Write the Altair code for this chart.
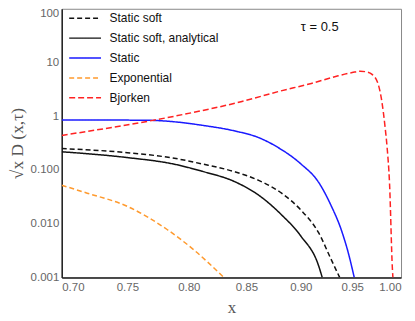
import altair as alt
import pandas as pd

series_names = ["Static soft", "Static soft, analytical", "Static", "Exponential", "Bjorken"]
series_colors = ["#111111", "#111111", "#1a1aff", "#ff9a2e", "#ff2222"]
series_dashes = [[5, 3], [1, 0], [1, 0], [5, 3], [6, 3]]

static_soft_x = [0.70, 0.75, 0.788, 0.811, 0.840, 0.861, 0.882, 0.900, 0.917, 0.929, 0.9375]
static_soft_y = [0.25, 0.21, 0.165, 0.13, 0.092, 0.064, 0.037, 0.018, 0.0068, 0.0022, 0.001]

analytical_x = [0.70, 0.75, 0.788, 0.811, 0.840, 0.861, 0.882, 0.900, 0.917, 0.9205]
analytical_y = [0.218, 0.17, 0.128, 0.095, 0.060, 0.034, 0.0146, 0.0059, 0.00165, 0.001]

static_x = [0.70, 0.73, 0.767, 0.79, 0.811, 0.84, 0.861, 0.879, 0.90, 0.917, 0.929, 0.939, 0.946, 0.952]
static_y = [0.85, 0.85, 0.84, 0.78, 0.68, 0.53, 0.40, 0.26, 0.13, 0.059, 0.022, 0.0078, 0.0029, 0.001]

expo_x = [0.70, 0.719, 0.75, 0.782, 0.804, 0.830]
expo_y = [0.052, 0.037, 0.021, 0.0078, 0.0033, 0.001]

bjorken_x = [0.70, 0.788, 0.846, 0.879, 0.910, 0.936, 0.950, 0.958, 0.964, 0.970, 0.976, 0.980, 0.9835, 0.9855, 0.988, 0.991, 0.9915]
bjorken_y = [0.44, 1.0, 1.88, 2.88, 4.08, 5.65, 6.5, 6.9, 6.7, 6.0, 4.1, 1.9, 0.6, 0.26, 0.056, 0.0014, 0.001]

y_ticks = [0.001, 0.01, 0.1, 1, 10, 100]
x_ticks = [0.70, 0.75, 0.80, 0.85, 0.90, 0.95, 1.00]

rows = []
for name, xs, ys in [
    ("Static soft", static_soft_x, static_soft_y),
    ("Static soft, analytical", analytical_x, analytical_y),
    ("Static", static_x, static_y),
    ("Exponential", expo_x, expo_y),
    ("Bjorken", bjorken_x, bjorken_y),
]:
    for xv, yv in zip(xs, ys):
        rows.append({"series": name, "x": xv, "y": yv})
df = pd.DataFrame(rows)

label_df = pd.DataFrame({"x": [0.90], "y": [45], "text": ["τ = 0.5"]})

legend_kw = dict(title=None, orient="none", legendX=17, legendY=3,
                 symbolType="M-3,0H3", symbolSize=113.8,
                 symbolStrokeWidth=1.5, labelFontSize=12,
                 labelFont="Liberation Sans", labelColor="#111111",
                 rowPadding=7, labelOffset=18, padding=0)

lines = alt.Chart(df).mark_line(strokeWidth=1.5, clip=True, interpolate="monotone").encode(
    x=alt.X("x:Q",
            scale=alt.Scale(type="log", domain=[0.7, 1.0], nice=False),
            axis=alt.Axis(values=x_ticks, format=".2f", title="x", grid=False,
                          ticks=False, labelColor="#666666", labelFontSize=11.5,
                          labelFont="Liberation Sans", labelPadding=4,
                          titleFont="Liberation Serif", titleFontSize=17,
                          titleFontWeight="normal", titleColor="#555555",
                          titlePadding=7, domainColor="#222222", domainWidth=1.5)),
    y=alt.Y("y:Q",
            scale=alt.Scale(type="log", domain=[0.001, 100], nice=False),
            axis=alt.Axis(values=y_ticks,
                          labelExpr="datum.value >= 1 ? format(datum.value, 'd') : format(datum.value, '.3f')",
                          labelOffset={"expr": "datum.value == 100 ? 5 : 0"},
                          title="√x D (x,τ)", grid=False, ticks=False,
                          labelColor="#666666", labelFontSize=11.5,
                          labelFont="Liberation Sans", labelPadding=3,
                          titleFont="Liberation Serif", titleFontSize=17.5,
                          titleFontWeight="normal", titleColor="#555555",
                          titlePadding=4, domainColor="#222222", domainWidth=1.5)),
    color=alt.Color("series:N",
                    scale=alt.Scale(domain=series_names, range=series_colors),
                    legend=alt.Legend(**legend_kw)),
    strokeDash=alt.StrokeDash("series:N",
                              scale=alt.Scale(domain=series_names, range=series_dashes),
                              legend=alt.Legend(**legend_kw)),
)

label = alt.Chart(label_df).mark_text(align="left", baseline="middle", fontSize=13,
                                      font="Liberation Sans", color="#111111").encode(
    x="x:Q", y="y:Q", text="text:N")

chart = alt.layer(lines, label).properties(
    width=341, height=270,
    autosize=alt.AutoSizeParams(type="none"),
    padding={"left": 54, "top": 0, "right": 6, "bottom": 40},
).configure_view(stroke="#888888", strokeWidth=1)

chart.save("out.html", embed_options={"renderer": "svg", "actions": False})
